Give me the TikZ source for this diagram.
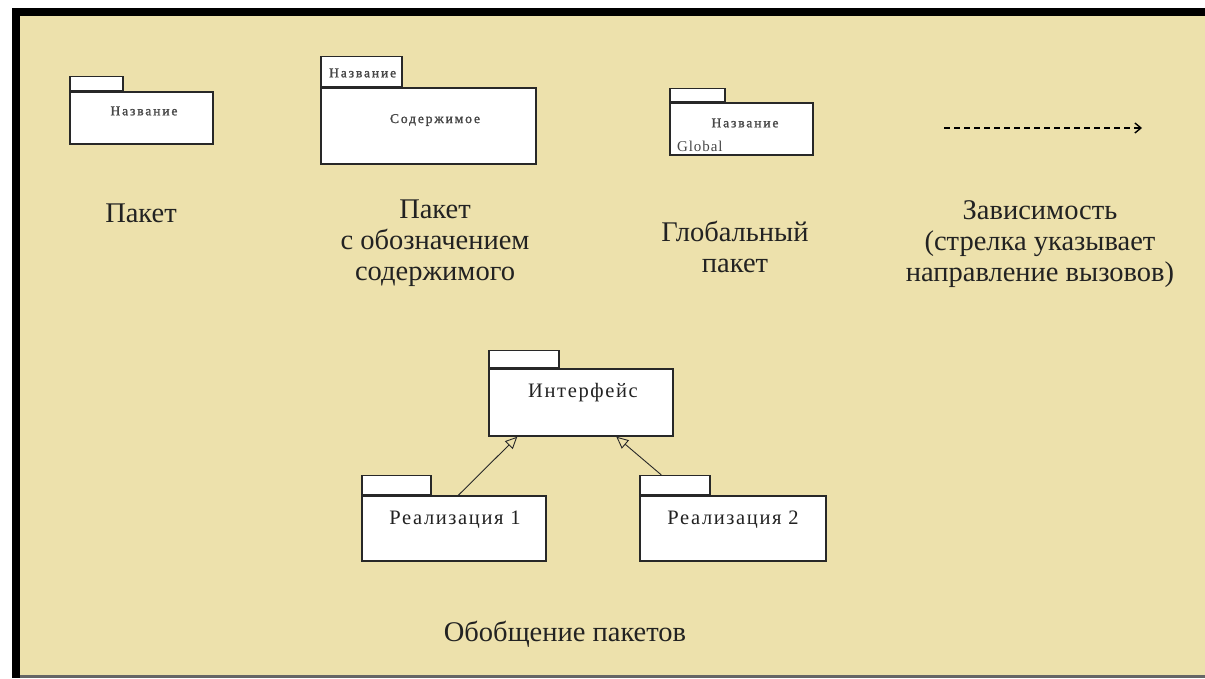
\documentclass[tikz,border=0pt]{standalone}
\usepackage{fontspec}
\setmainfont{Liberation Serif}
\newfontfamily\pkgfont[LetterSpace=14,FakeBold=1.5]{Liberation Serif}
\newfontfamily\pkgfontb[LetterSpace=8]{Liberation Serif}
\newfontfamily\globfont[LetterSpace=6]{Liberation Serif}
\usetikzlibrary{arrows.meta,calc}
\definecolor{paper}{RGB}{237,225,172}
\definecolor{ink}{RGB}{34,34,34}
\definecolor{boxline}{RGB}{40,40,40}
\tikzset{
  pkgbody/.style={draw=boxline, fill=white, line width=1.4pt, inner sep=0pt,
    minimum width=#1},
  pkgtab/.style={draw=boxline, fill=white, line width=1.4pt, inner sep=0pt,
    anchor=south west},
  smalltxt/.style={font=\pkgfont\fontsize{13.5}{15}\selectfont, text=black!72, inner sep=0pt},
  midtxt/.style={font=\pkgfontb\fontsize{20.5}{24}\selectfont, text=ink, inner sep=0pt},
  caption/.style={font=\fontsize{28.5}{31}\selectfont, text=ink, align=center, inner sep=0pt},
  gen/.style={draw=boxline, line width=0.9pt, -{Triangle[open,length=12pt,width=11pt]}},
  dep/.style={draw=black, line width=1.4pt, dash pattern=on 6pt off 4pt,
    -{Straight Barb[length=6pt,width=10pt,line width=1.4pt]}},
}
\begin{document}
\begin{tikzpicture}[x=1pt,y=-1pt]
\useasboundingbox (0,0) rectangle (1205,678);
% frame and paper
\fill[white] (0,0) rectangle (1205,678);
\fill[paper] (20,16) rectangle (1205,675);
\fill[black] (12,8) rectangle (1205,16);
\fill[black] (12,8) rectangle (20,678);
\fill[black!60] (20,675) rectangle (1205,678);

% plain package
\node[pkgbody=143pt, minimum height=52pt] (p1) at (141.5,118) {};
\node[pkgtab, minimum width=53pt, minimum height=14pt] (p1t) at (p1.north west) {};
\node[smalltxt] (p1n) at (144,111) {Название};
\node[caption] (c1) at (141,213) {Пакет};

% package with contents
\node[pkgbody=215pt, minimum height=76pt] (p2) at (428.5,126) {};
\node[pkgtab, minimum width=81pt, minimum height=30pt] (p2t) at (p2.north west) {};
\node[smalltxt, anchor=west] (p2n) at (329,73) {Название};
\node[smalltxt] (p2c) at (435,120) {Содержимое};
\node[caption] (c2) at (435,243) {Пакет\\с обозначением\\содержимого};

% global package
\node[pkgbody=143pt, minimum height=52pt] (p3) at (741.5,129) {};
\node[pkgtab, minimum width=55pt, minimum height=13pt] (p3t) at (p3.north west) {};
\node[smalltxt] (p3n) at (745,123) {Название};
\node[font=\globfont\fontsize{15}{17}\selectfont, text=black!72, inner sep=0pt, anchor=west] (p3g) at (677,146) {Global};
\node[caption] (c3) at (735,247) {Глобальный\\пакет};

% dependency
\coordinate (d1) at (944,128);
\coordinate (d2) at (1142,128);
\draw[dep] (d1) -- (d2);
\node[caption] (c4) at (1040,244) {Зависимость\\(стрелка указывает\\направление вызовов)};

% generalization
\node[pkgbody=184pt, minimum height=67pt] (ifc) at (581,402.5) {};
\node[pkgtab, minimum width=70pt, minimum height=17pt] (ifct) at (ifc.north west) {};
\node[midtxt] (ifcn) at (583,393) {Интерфейс};

\node[pkgbody=184pt, minimum height=65pt] (r1) at (454,528.5) {};
\node[pkgtab, minimum width=69pt, minimum height=19pt] (r1t) at (r1.north west) {};
\node[midtxt] (r1n) at (455,520) {Реализация 1};

\node[pkgbody=186pt, minimum height=65pt] (r2) at (733,528.5) {};
\node[pkgtab, minimum width=70pt, minimum height=19pt] (r2t) at (r2.north west) {};
\node[midtxt] (r2n) at (733,520) {Реализация 2};

\draw[gen] ([xshift=97pt]r1.north west) -- ([xshift=29pt]ifc.south west);
\draw[gen] ([xshift=22pt]r2t.north west) -- ([xshift=128pt]ifc.south west);

\node[caption] (c5) at (565,634) {Обобщение пакетов};
\end{tikzpicture}
\end{document}
